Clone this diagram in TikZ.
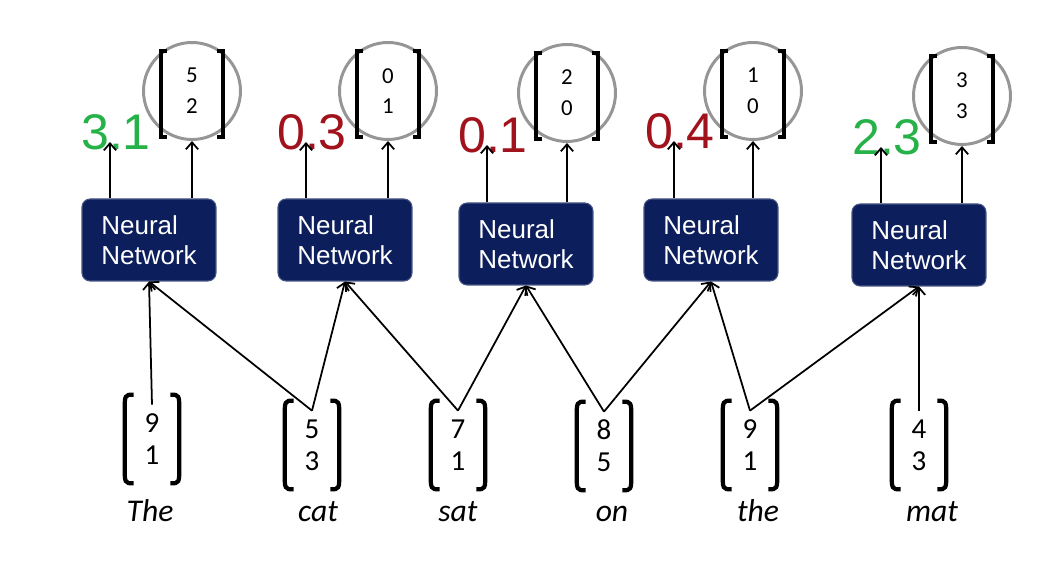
\documentclass[tikz,border=0pt]{standalone}
\usepackage{fontspec}
\setmainfont{Liberation Sans}
\newfontfamily\numfont{Carlito}
\usetikzlibrary{arrows.meta}

\definecolor{nnblue}{RGB}{12,30,92}
\definecolor{goodgreen}{RGB}{38,178,72}
\definecolor{badred}{RGB}{160,18,28}
\definecolor{ringgray}{RGB}{150,150,150}

\begin{document}
\begin{tikzpicture}[x=0.02cm, y=0.02cm,
        every node/.style={inner sep=0pt},
        nnbox/.style={draw=nnblue!75!white, line width=0.6pt, fill=nnblue, rounded corners=0.16cm,
          minimum width=2.68cm, minimum height=1.64cm, text=white, align=left,
          font=\fontsize{14.8}{17}\selectfont},
        outvec/.style={draw=ringgray, line width=1.7pt, circle, minimum size=1.94cm, align=center,
          font=\numfont\fontsize{13}{17.5}\selectfont},
        invec/.style={minimum width=1.08cm, minimum height=1.76cm, align=center,
          font=\numfont\fontsize{16.5}{18}\selectfont},
        word/.style={anchor=base, font=\numfont\itshape\fontsize{18}{20}\selectfont},
        score/.style={font=\fontsize{28.5}{30}\selectfont},
        link/.style={line width=1pt, -{Straight Barb[length=4pt, width=7pt]}},
        brk/.style={line width=2.4pt}]

        \useasboundingbox (0,0) rectangle (1038,577);

        % Neural networks
        \node[nnbox] (b1) at (149,337) {Neural\\Network};
        \node[nnbox] (b2) at (345,337) {Neural\\Network};
        \node[nnbox] (b3) at (526,333) {Neural\\Network};
        \node[nnbox] (b4) at (711,337) {Neural\\Network};
        \node[nnbox] (b5) at (919,332) {Neural\\Network};

        % Output vectors
        \node[outvec] (o1) at (192,486) {5\\2};
        \node[outvec] (o2) at (388,486) {0\\1};
        \node[outvec] (o3) at (567,484) {2\\0};
        \node[outvec] (o4) at (753,486) {1\\0};
        \node[outvec] (o5) at (962,481) {3\\3};
        \foreach \i in {1,...,5} {
          \draw[brk] ([shift={(-25,40)}]o\i.center) -- ++(-6,0) -- ++(0,-86) -- ++(6,0);
          \draw[brk] ([shift={(25,40)}]o\i.center) -- ++(6,0) -- ++(0,-86) -- ++(-6,0);
        }

        % Scores
        \node[score, text=goodgreen] (s1) at (116,445) {3.1};
        \node[score, text=badred] (s2) at (312,445) {0.3};
        \node[score, text=badred] (s3) at (493,442) {0.1};
        \node[score, text=badred] (s4) at (680,446) {0.4};
        \node[score, text=goodgreen] (s5) at (887,440) {2.3};

        % Input vectors
        \node[invec] (v1) at (152,138) {9\\1};
        \node[invec] (v2) at (312,132) {5\\3};
        \node[invec] (v3) at (458,132) {7\\1};
        \node[invec] (v4) at (604,131) {8\\5};
        \node[invec] (v5) at (750,132) {9\\1};
        \node[invec] (v6) at (919,132) {4\\3};
        \foreach \i in {1,...,6} {
          \draw[brk] ([shift={(9,0)}]v\i.north west) .. controls (v\i.north west) .. ([shift={(0,-18)}]v\i.north west)
            -- ([shift={(0,18)}]v\i.south west) .. controls (v\i.south west) .. ([shift={(9,0)}]v\i.south west);
          \draw[brk] ([shift={(-9,0)}]v\i.north east) .. controls (v\i.north east) .. ([shift={(0,-18)}]v\i.north east)
            -- ([shift={(0,18)}]v\i.south east) .. controls (v\i.south east) .. ([shift={(-9,0)}]v\i.south east);
        }

        % Words
        \node[word] (w1) at (150,55) {The};
        \node[word] (w2) at (318,55) {cat};
        \node[word] (w3) at (458,55) {sat};
        \node[word] (w4) at (612,55) {on};
        \node[word] (w5) at (758,55) {the};
        \node[word] (w6) at (932,55) {mat};

        % Inputs into the networks
        \foreach \v/\b in {1/1, 2/1, 2/2, 3/2, 3/3, 4/3, 4/4, 5/4, 5/5, 6/5}
          \draw[link] ([yshift=-0.2cm]v\v.north) -- (b\b.south);

        % Outputs
        \foreach \i in {1,...,5} {
          \coordinate (p\i) at ([shift={(-6,-10)}]s\i.center);
          \draw[link] (p\i |- b\i.north) -- (p\i);
          \draw[link] (o\i.south |- b\i.north) -- (o\i.south);
        }

\end{tikzpicture}
\end{document}
